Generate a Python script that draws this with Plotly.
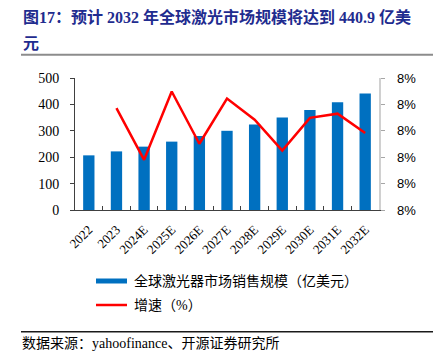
import plotly.graph_objects as go

categories = ["2022", "2023", "2024E", "2025E", "2026E", "2027E",
              "2028E", "2029E", "2030E", "2031E", "2032E"]
market_size = [207, 222, 240, 259, 280, 300, 324, 350, 379, 408, 440.9]
growth_cats = categories[1:]
growth_rate = [0.08086, 0.07890, 0.08149, 0.07951, 0.08122,
               0.08042, 0.07925, 0.08049, 0.08065, 0.07992]

W, H = 442, 357
L, R, T, B = 75, 379, 78, 210  # plot area in pixels

SERIF = "Liberation Serif, Times New Roman, Noto Sans CJK SC"
SANS = "Liberation Sans, Arial, sans-serif"
CJK = "Liberation Serif, Noto Sans CJK SC"


def px(x):
    return (x - L) / (R - L)


def py(y):
    return (B - y) / (B - T)


fig = go.Figure()
fig.add_trace(go.Bar(
    x=categories, y=market_size, marker_color="#0070C0",
    marker_line_width=0, name="全球激光器市场销售规模（亿美元）",
    yaxis="y", showlegend=False, hoverinfo="skip"))
fig.add_trace(go.Scatter(
    x=growth_cats, y=growth_rate, mode="lines",
    line=dict(color="#FF0000", width=2.5), name="增速（%）",
    yaxis="y2", showlegend=False, hoverinfo="skip"))

shapes = [
    # title underline
    dict(type="line", xref="paper", yref="paper", x0=px(21), x1=px(433),
         y0=py(54.7), y1=py(54.7), line=dict(color="#8c8c8c", width=2)),
    # bottom rule
    dict(type="line", xref="paper", yref="paper", x0=px(21), x1=px(433),
         y0=py(331.7), y1=py(331.7), line=dict(color="#1a1a1a", width=1.5)),
    # legend swatches
    dict(type="rect", xref="paper", yref="paper", x0=px(96), x1=px(127),
         y0=py(283.5), y1=py(278.5), fillcolor="#0070C0", line=dict(width=0)),
    dict(type="line", xref="paper", yref="paper", x0=px(96), x1=px(127),
         y0=py(305), y1=py(305), line=dict(color="#FF0000", width=2.5)),
]

annotations = [
    dict(text="<b>图17：预计 2032 年全球激光市场规模将达到 440.9 亿美</b>",
         xref="paper", yref="paper", x=px(21), y=py(16.5),
         xanchor="left", yanchor="middle", showarrow=False,
         font=dict(family=CJK, size=16, color="#1F2C8F")),
    dict(text="<b>元</b>",
         xref="paper", yref="paper", x=px(21), y=py(43),
         xanchor="left", yanchor="middle", showarrow=False,
         font=dict(family=CJK, size=16, color="#1F2C8F")),
    dict(text="全球激光器市场销售规模（亿美元）",
         xref="paper", yref="paper", x=px(132), y=py(281),
         xanchor="left", yanchor="middle", showarrow=False,
         font=dict(family=CJK, size=14, color="#000000")),
    dict(text="增速（%）",
         xref="paper", yref="paper", x=px(132), y=py(305),
         xanchor="left", yanchor="middle", showarrow=False,
         font=dict(family=CJK, size=14, color="#000000")),
    dict(text="数据来源：yahoofinance、开源证券研究所",
         xref="paper", yref="paper", x=px(20), y=py(343),
         xanchor="left", yanchor="middle", showarrow=False,
         font=dict(family=CJK, size=14, color="#000000")),
]

fig.update_layout(
    width=W, height=H,
    margin=dict(l=L, r=W - R, t=T, b=H - B, pad=0),
    paper_bgcolor="white", plot_bgcolor="white",
    bargap=0.59, showlegend=False,
    shapes=shapes, annotations=annotations,
    xaxis=dict(
        type="category", categoryorder="array", categoryarray=categories,
        showline=True, linecolor="#404040", linewidth=1,
        ticks="inside", tickson="boundaries", ticklen=4, tickcolor="#404040",
        tickangle=-45, ticklabelstandoff=6,
        tickfont=dict(family=SERIF, size=13, color="#000000"),
        showgrid=False, zeroline=False, fixedrange=True),
    yaxis=dict(
        range=[0, 500], dtick=100, tick0=0,
        showline=True, linecolor="#404040", linewidth=1,
        ticks="outside", ticklen=4, tickcolor="#404040",
        ticklabelstandoff=8,
        tickfont=dict(family=SERIF, size=14, color="#000000"),
        showgrid=False, zeroline=False, fixedrange=True),
    yaxis2=dict(
        overlaying="y", side="right",
        range=[0.077, 0.082], dtick=0.001, tick0=0.077, tickformat=".0%",
        showline=True, linecolor="#d0d0d0", linewidth=1.5,
        ticks="outside", ticklen=4, tickcolor="#a6a6a6",
        ticklabelstandoff=10,
        tickfont=dict(family=SANS, size=13, color="#000000"),
        showgrid=False, zeroline=False, fixedrange=True),
)

fig.write_html(
    "out.html",
    config={"displayModeBar": False, "staticPlot": True},
    post_script="document.body.style.margin='0';document.body.style.overflow='hidden';",
)
